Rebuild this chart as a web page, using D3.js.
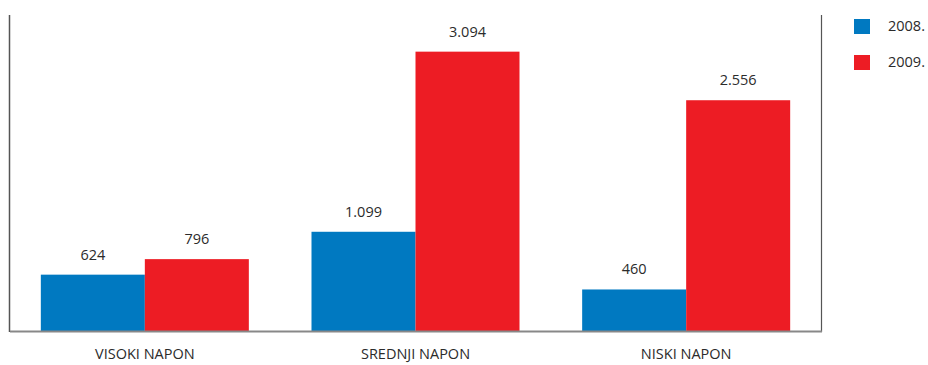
<!DOCTYPE html>
<html><head><meta charset="utf-8">
<script src="https://cdn.jsdelivr.net/npm/d3@7"></script>
<style>body{margin:0;background:#fff;}svg{display:block;}</style>
</head><body>
<script>
const categories = ["VISOKI NAPON", "SREDNJI NAPON", "NISKI NAPON"];
const seriesNames = ["2008.", "2009."];
const values2008 = [624, 1099, 460];
const values2009 = [796, 3094, 2556];
const colors = ["#0079c1", "#ed1c24"];

(function () {
const W = 928, H = 365;
const mLeft = 9.5, mRight = 821.5, mTop = 15, mBottom = 331;
const svg = d3.select("body").append("svg").attr("width", W).attr("height", H);
const font = "'Open Sans', sans-serif";
const fs = 14.5;

const x0 = d3.scaleBand().domain(categories).range([mLeft, mRight]).paddingInner(0.2315).paddingOuter(0.11575);
const x1 = d3.scaleBand().domain(seriesNames).range([0, x0.bandwidth()]);
const y = d3.scaleLinear().domain([0, 3500]).range([mBottom, mTop]);

const data = categories.map((c, i) => ({cat: c, vals: [values2008[i], values2009[i]]}));

const g = svg.selectAll("g.grp").data(data).join("g").attr("class", "grp").attr("transform", d => `translate(${x0(d.cat)},0)`);
g.selectAll("rect").data(d => d.vals.map((v, j) => ({v, s: seriesNames[j], j})))
  .join("rect")
  .attr("x", d => x1(d.s)).attr("width", x1.bandwidth())
  .attr("y", d => y(d.v)).attr("height", d => mBottom - y(d.v))
  .attr("fill", d => colors[d.j]);
const fmt = v => d3.format(",")(v).replace(/,/g, ".");
g.selectAll("text").data(d => d.vals.map((v, j) => ({v, s: seriesNames[j], j})))
  .join("text")
  .attr("x", d => x1(d.s) + x1.bandwidth() / 2)
  .attr("y", d => y(d.v) - 15)
  .attr("text-anchor", "middle")
  .attr("font-family", font).attr("font-size", fs).attr("fill", "#2b2b2b")
  .text(d => fmt(d.v));

svg.append("line").attr("x1", mLeft).attr("x2", mLeft).attr("y1", mTop).attr("y2", mBottom + 1).attr("stroke", "#555").attr("stroke-width", 1.5);
svg.append("line").attr("x1", mRight).attr("x2", mRight).attr("y1", mTop).attr("y2", mBottom + 1).attr("stroke", "#555").attr("stroke-width", 1.2);
const xAxis = d3.axisBottom(x0).tickSize(0).tickPadding(18);
const ax = svg.append("g").attr("transform", `translate(0,${mBottom})`).call(xAxis);
ax.select(".domain").attr("stroke", "#888").attr("stroke-width", 2);
ax.selectAll("text").attr("font-family", font).attr("font-size", fs).attr("fill", "#2b2b2b");

const lg = svg.append("g");
seriesNames.forEach((s, i) => {
  lg.append("rect").attr("x", 854).attr("y", 19 + i * 36).attr("width", 16).attr("height", 15).attr("fill", colors[i]);
  lg.append("text").attr("x", 888).attr("y", 26 + i * 36).attr("dy", "0.35em")
    .attr("font-family", font).attr("font-size", fs).attr("fill", "#2b2b2b").text(s);
});
})();
</script>
</body></html>
